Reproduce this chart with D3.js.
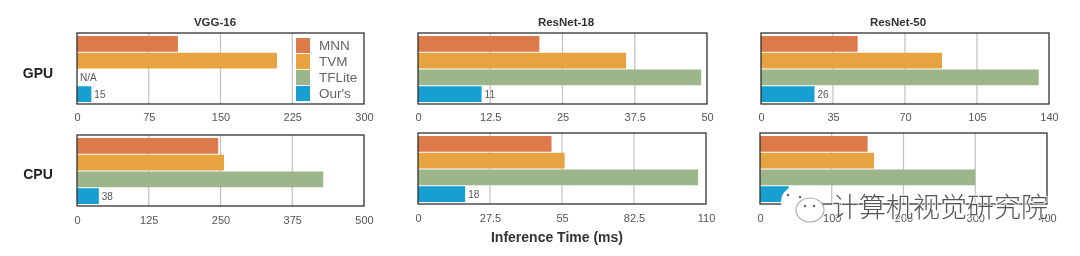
<!DOCTYPE html>
<html>
<head>
<meta charset="utf-8">
<script src="https://cdn.jsdelivr.net/npm/d3@7"></script>
<style>
  html, body { margin: 0; background: #fff; }
  svg { display: block; font-family: "Liberation Sans", sans-serif; }
  .tick text { fill: #555; font-size: 11px; }
</style>
</head>
<body>
<div id="chart"></div>
<script>
const methods = ['MNN', 'TVM', 'TFLite', "Our's"];
const colors = ['#dd7a4c', '#e6a33f', '#9db58a', '#159fd0'];
const models = ['VGG-16', 'ResNet-18', 'ResNet-50'];
const devices = ['GPU', 'CPU'];

const vgg_gpu = [105.5, 209, null, 15];
const vgg_cpu = [246, 256, 429, 38];
const res18_gpu = [21, 36, 49, 11];
const res18_cpu = [51, 56, 107, 18];
const res50_gpu = [47, 88, 135, 26];
const res50_cpu = [150, 159, 300, 40];

const vgg_gpu_ticks = [0, 75, 150, 225, 300];
const vgg_cpu_ticks = [0, 125, 250, 375, 500];
const res18_gpu_ticks = [0, 12.5, 25, 37.5, 50];
const res18_cpu_ticks = [0, 27.5, 55, 82.5, 110];
const res50_gpu_ticks = [0, 35, 70, 105, 140];
const res50_cpu_ticks = [0, 100, 200, 300, 400];

const panels = [
    { values: vgg_gpu, ticks: vgg_gpu_ticks, x: 77, y: 33, w: 287, title: models[0], title_x: 138, device: devices[0], device_y: 78 },
    { values: res18_gpu, ticks: res18_gpu_ticks, x: 418, y: 33, w: 289, title: models[1], title_x: 148 },
    { values: res50_gpu, ticks: res50_gpu_ticks, x: 761, y: 33, w: 288, title: models[2], title_x: 137 },
    { values: vgg_cpu, ticks: vgg_cpu_ticks, x: 77, y: 135, w: 287, device: devices[1], device_y: 179 },
    { values: res18_cpu, ticks: res18_cpu_ticks, x: 418, y: 133, w: 288 },
    { values: res50_cpu, ticks: res50_cpu_ticks, x: 760, y: 133, w: 287 },
];

const panel_height = 71;

const svg = d3.select('#chart')
    .append('svg')
    .attr('width', 1080)
    .attr('height', 256);

const defs = svg.append('defs');
defs.append('filter')
    .attr('id', 'soft')
    .append('feGaussianBlur')
    .attr('stdDeviation', 0.45);
defs.append('filter')
    .attr('id', 'softer')
    .append('feGaussianBlur')
    .attr('stdDeviation', 0.6);

const root = svg.append('g').attr('filter', 'url(#soft)');

panels.forEach(p => {
    const g = root.append('g').attr('transform', `translate(${p.x}, ${p.y})`);

    const x_scale = d3.scaleLinear()
        .domain([0, p.ticks[p.ticks.length - 1]])
        .range([0, p.w]);

    const y_scale = d3.scaleBand()
        .domain(methods)
        .range([3, panel_height - 2])
        .paddingInner(0.06);

    // Create Axis
    const x_axis = d3.axisBottom(x_scale)
        .tickValues(p.ticks)
        .tickFormat(d => d)
        .tickSize(0)
        .tickPadding(p.y > 100 ? 10 : 9);
    const axis = g.append('g')
        .attr('transform', `translate(0, ${panel_height})`)
        .call(x_axis);
    axis.select('.domain').remove();

    // Gridlines under the bars
    g.append('g')
        .selectAll('line')
        .data(p.ticks.slice(1, -1))
        .enter()
        .append('line')
        .attr('x1', d => x_scale(d))
        .attr('x2', d => x_scale(d))
        .attr('y1', 0)
        .attr('y2', panel_height)
        .attr('stroke', '#bfc1c5')
        .attr('stroke-width', 1.2);

    // Create Bars
    g.append('g')
        .selectAll('rect')
        .data(p.values.map((v, i) => ({ v, name: methods[i], color: colors[i] })).filter(d => d.v !== null))
        .enter()
        .append('rect')
        .attr('x', 0)
        .attr('y', d => y_scale(d.name))
        .attr('width', d => x_scale(d.v))
        .attr('height', y_scale.bandwidth())
        .attr('fill', d => d.color);

    // Frame
    g.append('rect')
        .attr('width', p.w)
        .attr('height', panel_height)
        .attr('fill', 'none')
        .attr('stroke', '#2e2e30')
        .attr('stroke-width', 1.3);

    // Label next to our bar
    const ours = p.values[3];
    if (p !== panels[5]) {
        g.append('text')
            .text(ours)
            .attr('x', x_scale(ours) + 3)
            .attr('y', y_scale(methods[3]) + y_scale.bandwidth() / 2 + 4)
            .attr('fill', '#555')
            .attr('font-size', 10);
    }

    p.values.forEach((v, i) => {
        if (v === null) {
            g.append('text')
                .text('N/A')
                .attr('x', 3)
                .attr('y', y_scale(methods[i]) + y_scale.bandwidth() / 2 + 4)
                .attr('fill', '#555')
                .attr('font-size', 10);
        }
    });

    if (p.title) {
        g.append('text')
            .text(p.title)
            .attr('x', p.title_x)
            .attr('y', -7)
            .attr('text-anchor', 'middle')
            .attr('font-weight', 'bold')
            .attr('font-size', 11.5)
            .attr('fill', '#333');
    }

    if (p.device) {
        root.append('text')
            .text(p.device)
            .attr('x', 38)
            .attr('y', p.device_y)
            .attr('text-anchor', 'middle')
            .attr('font-weight', 'bold')
            .attr('font-size', 14)
            .attr('fill', '#222');
    }
});

// Legend
const legend = root.append('g').attr('transform', 'translate(296, 38)');
const legend_scale = d3.scaleBand().domain(methods).range([0, 63]).paddingInner(0.06);
methods.forEach((m, i) => {
    legend.append('rect')
        .attr('x', 0)
        .attr('y', legend_scale(m))
        .attr('width', 14)
        .attr('height', legend_scale.bandwidth())
        .attr('fill', colors[i]);
    legend.append('text')
        .text(m)
        .attr('x', 23)
        .attr('y', legend_scale(m) + legend_scale.bandwidth() / 2 + 4.5)
        .attr('font-size', 13.5)
        .attr('fill', '#666');
});

root.append('text')
    .text('Inference Time (ms)')
    .attr('x', 557)
    .attr('y', 242)
    .attr('text-anchor', 'middle')
    .attr('font-weight', 'bold')
    .attr('font-size', 14)
    .attr('fill', '#333');

// Watermark over the last panel
const mark = svg.append('g').attr('filter', 'url(#softer)');
mark.append('ellipse')
    .attr('cx', 798)
    .attr('cy', 201)
    .attr('rx', 17)
    .attr('ry', 15)
    .attr('fill', '#fff');
mark.append('ellipse')
    .attr('cx', 810)
    .attr('cy', 210)
    .attr('rx', 14)
    .attr('ry', 12)
    .attr('fill', '#fff')
    .attr('stroke', '#a9b0b4')
    .attr('stroke-width', 1.2);
mark.selectAll('circle')
    .data([[788, 195], [800, 197], [805, 206], [814, 206]])
    .enter()
    .append('circle')
    .attr('cx', d => d[0])
    .attr('cy', d => d[1])
    .attr('r', 1.3)
    .attr('fill', '#667');
mark.append('text')
    .text('计算机视觉研究院')
    .attr('x', 832)
    .attr('y', 217)
    .attr('font-family', '"Noto Sans CJK SC"')
    .attr('font-weight', 300)
    .attr('font-size', 27)
    .attr('fill', '#555')
    .attr('stroke', '#fff')
    .attr('stroke-width', 2)
    .attr('stroke-opacity', 0.8)
    .attr('paint-order', 'stroke');
</script>
</body>
</html>
